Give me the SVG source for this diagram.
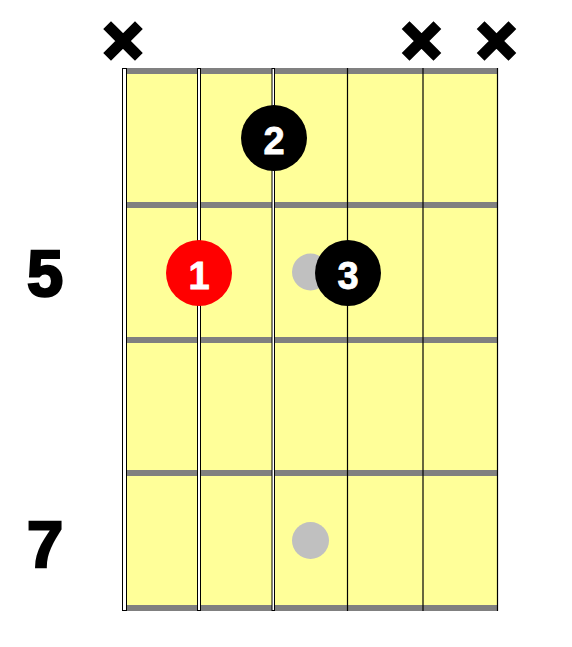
<svg xmlns="http://www.w3.org/2000/svg" width="572" height="647" viewBox="0 0 572 647">
<style>
.fret{fill:#808080}
.s{fill:#fff;stroke:#000;stroke-width:1}
.sl{stroke:#000;stroke-width:1.2}
.x{stroke:#000;stroke-width:11;stroke-linecap:square}
.num{font-family:"Liberation Sans",Arial,sans-serif;font-weight:bold;font-size:65px;fill:#000;stroke:#000;stroke-width:2.5}
.fn{font-family:"Liberation Sans",Arial,sans-serif;font-weight:bold;font-size:38px;fill:#fff;text-anchor:middle;stroke:#fff;stroke-width:0.8}
.ghost{fill:#c0c0c0}
</style>
<rect id="board" x="123" y="68" width="375" height="543" fill="#ffff99"/>
<g id="frets">
<rect class="fret" x="123" y="68" width="375" height="6"/>
<rect class="fret" x="123" y="202" width="375" height="6"/>
<rect class="fret" x="123" y="337" width="375" height="6"/>
<rect class="fret" x="123" y="470" width="375" height="6"/>
<rect class="fret" x="123" y="605" width="375" height="6"/>
</g>
<g id="strings">
<rect class="s" x="122.5" y="68.5" width="4" height="542"/>
<rect class="s" x="197.5" y="68.5" width="3" height="542"/>
<rect class="s" x="272" y="68.5" width="2.5" height="542"/>
<line class="sl" x1="347.5" y1="68" x2="347.5" y2="611"/>
<line class="sl" x1="423" y1="68" x2="423" y2="611"/>
<line class="sl" x1="497.5" y1="68" x2="497.5" y2="611"/>
</g>
<g id="mutes">
<path class="x" d="M111 29L135 53M135 29L111 53"/>
<path class="x" d="M409.5 29L433.5 53M433.5 29L409.5 53"/>
<path class="x" d="M484.5 29L508.5 53M508.5 29L484.5 53"/>
</g>
<g id="fret-numbers">
<text class="num" x="27" y="296">5</text>
<text class="num" x="27" y="567">7</text>
</g>
<g id="ghost-dots">
<circle class="ghost" cx="310.5" cy="272" r="18.5"/>
<circle class="ghost" cx="310.5" cy="540.5" r="18.5"/>
</g>
<g id="finger-2">
<circle cx="274" cy="138" r="33" fill="#000"/>
<text class="fn" x="274" y="154">2</text>
</g>
<g id="finger-1">
<circle cx="199" cy="273" r="33" fill="#f00"/>
<text class="fn" x="199" y="289">1</text>
</g>
<g id="finger-3">
<circle cx="348" cy="273" r="33" fill="#000"/>
<text class="fn" x="348" y="289">3</text>
</g>
</svg>
